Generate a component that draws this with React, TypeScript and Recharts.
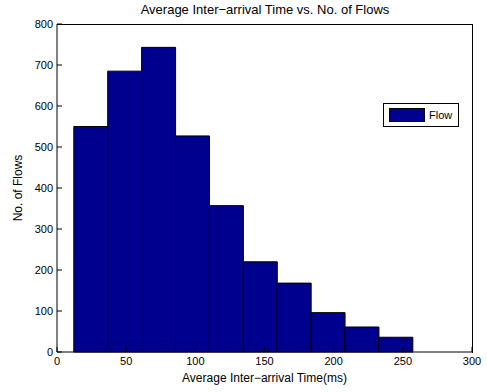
import React from 'react';
import { ComposedChart, Bar, XAxis, YAxis, Label } from 'recharts';

const binCenters = [24.4, 48.9, 73.4, 97.9, 122.4, 146.9, 171.4, 195.9, 220.4, 244.9];
const flowCounts = [550, 685, 743, 527, 357, 220, 168, 96, 61, 36];
const xTicks = [0, 50, 100, 150, 200, 250, 300];
const yTicks = [0, 100, 200, 300, 400, 500, 600, 700, 800];

const data = binCenters.map((x, i) => ({ x, flow: flowCounts[i] }));

const font = 'Liberation Sans, Arial, sans-serif';
const tickStyle = { fontSize: 11, fill: '#000', fontFamily: font };

const FlowLegend = () => (
  <div
    style={{
      position: 'absolute',
      left: 383,
      top: 103,
      display: 'flex',
      alignItems: 'center',
      border: '1px solid #000',
      background: '#fff',
      width: 76,
      height: 24,
      boxSizing: 'border-box',
      fontFamily: font,
      fontSize: 11,
    }}
  >
    <div style={{ width: 36, height: 14, marginLeft: 5, marginRight: 4, background: '#00008F', border: '1px solid #000', boxSizing: 'border-box' }} />
    <span>Flow</span>
  </div>
);

export default function App() {
  return (
    <div style={{ position: 'absolute', left: 0, top: 0, width: 487, height: 392, background: '#fff' }}>
      <div style={{ position: 'absolute', left: 0, top: 2, width: 530, textAlign: 'center', fontFamily: font, fontSize: 13 }}>
        Average Inter−arrival Time vs. No. of Flows
      </div>
      <ComposedChart width={487} height={392} data={data} barCategoryGap={0} barGap={0} margin={{ top: 24, right: 15, left: 0, bottom: 0 }}>
        <XAxis
          dataKey="x"
          type="number"
          domain={[0, 300]}
          ticks={xTicks}
          tickSize={-5}
          tickMargin={10}
          height={40}
          tick={tickStyle}
          stroke="#000"
        >
          <Label value="Average Inter−arrival Time(ms)" position="insideBottom" offset={10} style={{ fontSize: 12, fill: '#000', fontFamily: font }} />
        </XAxis>
        <YAxis
          type="number"
          domain={[0, 800]}
          ticks={yTicks}
          tickSize={-5}
          tickMargin={9}
          width={57}
          tick={tickStyle}
          stroke="#000"
        >
          <Label value="No. of Flows" angle={-90} position="insideLeft" offset={18} style={{ fontSize: 12, fill: '#000', fontFamily: font, textAnchor: 'middle' }} />
        </YAxis>
        <Bar
          dataKey="flow"
          name="Flow"
          fill="#00008F"
          stroke="#000"
          strokeWidth={1}
          isAnimationActive={false}
        />
      </ComposedChart>
      {/* axes box: top and right edges */}
      <div
        style={{
          position: 'absolute',
          left: 57,
          top: 24,
          width: 416,
          height: 329,
          borderTop: '1px solid #000',
          borderRight: '1px solid #000',
          boxSizing: 'border-box',
          pointerEvents: 'none',
        }}
      />
      <FlowLegend />
    </div>
  );
}
